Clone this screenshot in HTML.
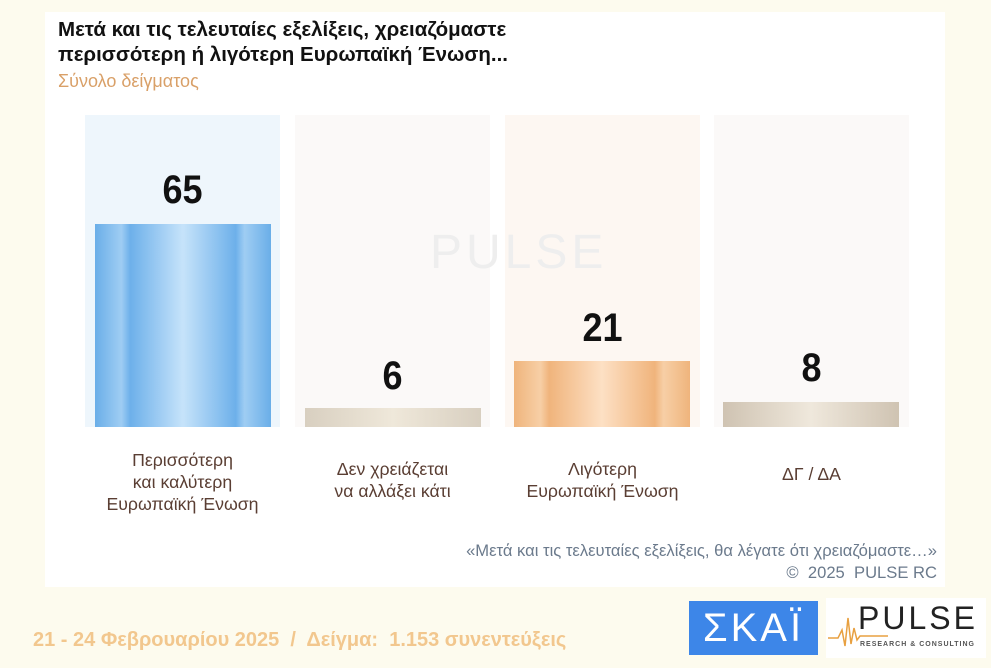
<!DOCTYPE html><html><head><meta charset="utf-8"><style>
body{margin:0;width:991px;height:668px;overflow:hidden;background:#fdfbee;font-family:"Liberation Sans",sans-serif;position:relative}
.p{position:absolute}
.panel{left:45px;top:12px;width:900px;height:575px;background:#fff}
.col{top:115px;width:195px;height:312px}
.bar{width:176px}
.num{width:195px;text-align:center;font-weight:bold;font-size:40px;color:#111;transform:scaleX(.9)}
.lab{width:195px;text-align:center;font-size:17.7px;color:#5a3e33;line-height:22px}
</style></head><body>
<div class="p panel"></div>
<div class="p" style="left:58px;top:17px;font-size:20.5px;font-weight:bold;color:#111;line-height:25px;white-space:nowrap">Μετά και τις τελευταίες εξελίξεις, χρειαζόμαστε<br>περισσότερη ή λιγότερη Ευρωπαϊκή Ένωση...</div>
<div class="p" style="left:58px;top:71px;font-size:18px;color:#d9a068">Σύνολο δείγματος</div>
<div class="p col" style="left:85px;background:#eef6fc"></div>
<div class="p col" style="left:295px;background:#fbf9f8"></div>
<div class="p col" style="left:505px;background:#fdf7f2"></div>
<div class="p col" style="left:714px;background:#fbf9f8"></div>
<div class="p bar" style="left:95px;top:224px;height:203px;background:linear-gradient(90deg,#6aaee8,#9fcdf3 15%,#6db0ea 20%,#c6e3fa 50%,#6db0ea 80%,#9fcdf3 85%,#6aaee8)"></div>
<div class="p bar" style="left:305px;top:408px;height:19px;background:linear-gradient(90deg,#d8cfc0,#efe8da 50%,#d8cfc0)"></div>
<div class="p bar" style="left:514px;top:361px;height:66px;background:linear-gradient(90deg,#efb47c,#f7cfa6 15%,#f0b47c 20%,#fde0c4 50%,#f0b47c 80%,#f7cfa6 85%,#efb47c)"></div>
<div class="p bar" style="left:723px;top:402px;height:25px;background:linear-gradient(90deg,#cfc3b2,#efe8dc 50%,#cfc3b2)"></div>
<div class="p num" style="left:85px;top:168px">65</div>
<div class="p num" style="left:295px;top:354px">6</div>
<div class="p num" style="left:505px;top:306px">21</div>
<div class="p num" style="left:714px;top:346px">8</div>
<div class="p" style="left:430px;top:225px;font-size:48px;color:#eee;letter-spacing:4px">PULSE</div>
<div class="p lab" style="left:85px;top:449px">Περισσότερη<br>και καλύτερη<br>Ευρωπαϊκή Ένωση</div>
<div class="p lab" style="left:295px;top:458px">Δεν χρειάζεται<br>να αλλάξει κάτι</div>
<div class="p lab" style="left:505px;top:458px">Λιγότερη<br>Ευρωπαϊκή Ένωση</div>
<div class="p lab" style="left:714px;top:463px">ΔΓ / ΔΑ</div>
<div class="p" style="right:54px;top:540px;font-size:16.6px;color:#6b7a8c;text-align:right;line-height:22px;white-space:nowrap">«Μετά και τις τελευταίες εξελίξεις, θα λέγατε ότι χρειαζόμαστε…»<br>©&nbsp; 2025&nbsp; PULSE RC</div>
<div class="p" style="left:33px;top:629px;font-size:20px;font-weight:bold;color:#f2c78e;white-space:nowrap">21 - 24 Φεβρουαρίου 2025&nbsp; /&nbsp; Δείγμα:&nbsp; 1.153 συνεντεύξεις</div>
<div class="p" style="left:689px;top:601px;width:129px;height:54px;background:#3d86e8;color:#fff;font-size:40px;text-align:center;line-height:54px;letter-spacing:3px">ΣΚΑΪ</div>
<div class="p" style="left:826px;top:598px;width:160px;height:60px;background:#fff"></div>
<div class="p" style="left:858px;top:600px;font-size:32px;color:#222;letter-spacing:3px">PULSE</div>
<div class="p" style="left:860px;top:641px;font-size:7px;color:#555;font-weight:bold;letter-spacing:1px">RESEARCH &amp; CONSULTING</div>
<svg class="p" style="left:828px;top:610px" width="60" height="40"><polyline points="0,28 10,28 14,20 17,36 20,8 23,34 26,18 29,30 32,26 60,26" fill="none" stroke="#e8a040" stroke-width="1.5"/></svg>
</body></html>
